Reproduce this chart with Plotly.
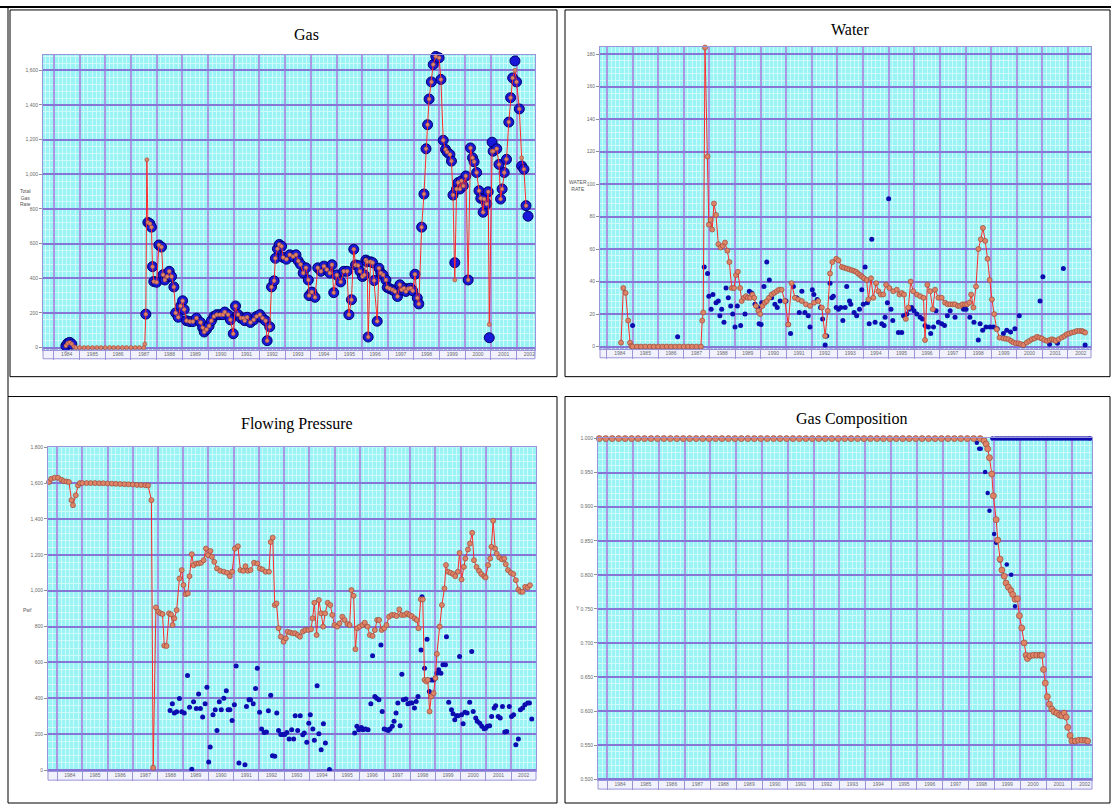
import plotly.graph_objects as go
from datetime import datetime

# ---------------- DATA (decimal years) ----------------
gas_years = [
    1984.47, 1984.54, 1984.62, 1984.70, 1984.78, 1984.86,
    1985.00, 1985.17, 1985.33, 1985.50, 1985.67, 1985.83,
    1986.00, 1986.17, 1986.33, 1986.50, 1986.67, 1986.83,
    1987.00, 1987.17, 1987.33, 1987.50, 1987.54, 1987.58,
    1987.62, 1987.66, 1987.74, 1987.80, 1987.84, 1987.89,
    1988.00, 1988.09, 1988.19, 1988.25, 1988.32, 1988.41,
    1988.49, 1988.58, 1988.67, 1988.74, 1988.84, 1988.93,
    1989.01, 1989.07, 1989.16, 1989.29, 1989.41, 1989.55,
    1989.71, 1989.79, 1989.85, 1989.94, 1990.04, 1990.13,
    1990.23, 1990.34, 1990.46, 1990.58, 1990.65, 1990.78,
    1990.87, 1990.98, 1991.07, 1991.17, 1991.28, 1991.37,
    1991.43, 1991.52, 1991.65, 1991.78, 1991.89, 1992.02,
    1992.12, 1992.24, 1992.30, 1992.40, 1992.47, 1992.57,
    1992.62, 1992.70, 1992.77, 1992.86, 1992.92, 1993.05,
    1993.18, 1993.31, 1993.42, 1993.51, 1993.60, 1993.70,
    1993.81, 1993.90, 1993.93, 1994.04, 1994.16, 1994.27,
    1994.39, 1994.51, 1994.62, 1994.74, 1994.82, 1994.89,
    1995.01, 1995.16, 1995.28, 1995.41, 1995.48, 1995.58,
    1995.67, 1995.74, 1995.84, 1995.91, 1996.01, 1996.08,
    1996.14, 1996.19, 1996.23, 1996.32, 1996.40, 1996.46,
    1996.58, 1996.65, 1996.72, 1996.81, 1996.92, 1996.97,
    1997.07, 1997.18, 1997.27, 1997.37, 1997.46, 1997.53,
    1997.62, 1997.70, 1997.79, 1997.88, 1997.96, 1998.05,
    1998.14, 1998.20, 1998.31, 1998.40, 1998.48, 1998.54,
    1998.60, 1998.69, 1998.76, 1998.86, 1998.99, 1999.06,
    1999.15, 1999.24, 1999.30, 1999.41, 1999.47, 1999.53,
    1999.60, 1999.67, 1999.73, 1999.80, 1999.86, 1999.93,
    2000.03, 2000.12, 2000.21, 2000.29, 2000.35, 2000.45,
    2000.54, 2000.61, 2000.70, 2000.74, 2000.84, 2000.90,
    2000.94, 2001.05, 2001.09, 2001.23, 2001.32, 2001.38,
    2001.44, 2001.52, 2001.61, 2001.70, 2001.77, 2001.85,
    2001.94, 2002.00, 2002.11, 2002.20, 2002.29, 2002.37,
    2002.45]

gas_red = [
    10, 25, 30, 20, 5, 0,
    0, 0, 0, 0, 0, 0,
    0, 0, 0, 0, 0, 0,
    0, 0, 0, 0, 20, 193,
    1084, 722, 715, 695, 467, 381,
    377, 592, 580, 420, 390, 410,
    440, 410, 350, 200, 175, 240,
    270, 220, 155, 150, 150, 170,
    145, 115, 90, 105, 125, 155,
    180, 190, 190, 190, 205, 190,
    160, 80, 240, 190, 170, 170,
    155, 175, 145, 160, 180, 190,
    170, 155, 40, 120, 350, 385,
    515, 570, 595, 585, 520, 510,
    535, 525, 535, 500, 480, 430,
    460, 390, 300, 320, 290, 460,
    440, 470, 450, 430, 478, 317,
    419, 379, 440, 440, 190, 276,
    567, 477, 473, 440, 410, 419,
    505, 495, 61, 495, 490, 387,
    152, 458, 430, 419, 390, 347,
    340, 333, 324, 295, 362, 333,
    343, 324, 340, 343, 328, 423,
    286, 252, 695, 886, 1147, 1286,
    1434, 1533, 1633, 1680, 1672, 1547,
    1196, 1143, 1128, 1114, 1076, 880,
    390, 915, 952, 915, 962, 933,
    990, 390, 1152, 1095, 1072, 1010,
    905, 861, 781, 857, 829, 899,
    133, 1133, 1133, 1147, 1057, 857,
    915, 1010, 1086, 1301, 1442, 1556,
    1600, 1533, 1377, 1095, 1029, 819,
    None]

gas_blue = [
    10, 25, 30, 20, None, None,
    None, None, None, None, None, None,
    None, None, None, None, None, None,
    None, None, None, None, None, 193,
    None, 722, 715, 695, 467, 381,
    377, 592, 580, 420, 390, 410,
    440, 410, 350, 200, 175, 240,
    270, 220, 155, 150, 150, 170,
    145, 115, 90, 105, 125, 155,
    180, 190, 190, 190, 205, 190,
    160, 80, 240, 190, 170, 170,
    155, 175, 145, 160, 180, 190,
    170, 155, 40, 120, 350, 385,
    515, 570, 595, 585, 520, 510,
    535, 525, 535, 500, 480, 430,
    460, 390, 300, 320, 290, 460,
    440, 470, 450, 430, 478, 317,
    419, 379, 440, 440, 190, 276,
    567, 477, 473, 440, 410, 419,
    505, 495, 61, 495, 490, 387,
    152, 458, 430, 419, 390, 347,
    340, 333, 324, 295, 362, 333,
    343, 324, 340, 343, 328, 423,
    286, 252, 695, 886, 1147, 1286,
    1434, 1533, 1633, 1680, 1672, 1547,
    1196, 1143, 1128, 1114, 1076, 880,
    490, 915, 952, 915, 962, 933,
    990, 390, 1152, 1095, 1072, 1010,
    905, 861, 781, 857, 829, 899,
    57, 1185, 1133, 1147, 1057, 857,
    915, 1010, 1086, 1301, 1442, 1556,
    1654, 1533, 1377, 1048, 1029, 819,
    758]

water_years = [
    1984.55, 1984.64, 1984.73, 1984.83, 1984.90, 1984.95,
    1985.00, 1985.17, 1985.33, 1985.50, 1985.67, 1985.83,
    1986.00, 1986.17, 1986.33, 1986.50, 1986.67, 1986.83,
    1987.00, 1987.17, 1987.33, 1987.50, 1987.67, 1987.72,
    1987.76, 1987.83, 1987.93, 1987.98, 1988.05, 1988.11,
    1988.18, 1988.26, 1988.35, 1988.44, 1988.52, 1988.61,
    1988.70, 1988.78, 1988.87, 1988.96, 1989.04, 1989.11,
    1989.20, 1989.26, 1989.35, 1989.43, 1989.50, 1989.59,
    1989.68, 1989.75, 1989.82, 1989.91, 1989.98, 1990.07,
    1990.16, 1990.24, 1990.33, 1990.43, 1990.53, 1990.63,
    1990.72, 1990.82, 1990.95, 1991.08, 1991.21, 1991.34,
    1991.47, 1991.61, 1991.77, 1991.93, 1992.09, 1992.25,
    1992.39, 1992.52, 1992.62, 1992.71, 1992.80, 1992.95,
    1993.04, 1993.17, 1993.26, 1993.36, 1993.46, 1993.56,
    1993.65, 1993.73, 1993.80, 1993.88, 1993.96, 1994.04,
    1994.14, 1994.21, 1994.31, 1994.40, 1994.51, 1994.60,
    1994.69, 1994.79, 1994.90, 1995.03, 1995.18, 1995.32,
    1995.42, 1995.51, 1995.60, 1995.67, 1995.77, 1995.86,
    1995.96, 1996.10, 1996.23, 1996.36, 1996.42, 1996.51,
    1996.62, 1996.72, 1996.81, 1996.94, 1997.07, 1997.20,
    1997.30, 1997.40, 1997.50, 1997.59, 1997.70, 1997.79,
    1997.88, 1997.98, 1998.06, 1998.15, 1998.22, 1998.31,
    1998.41, 1998.50, 1998.60, 1998.68, 1998.77, 1998.86,
    1998.94, 1999.03, 1999.12, 1999.22, 1999.33, 1999.48,
    1999.58, 1999.68, 1999.78, 1999.87, 1999.97, 2000.07,
    2000.16, 2000.26, 2000.39, 2000.49, 2000.59, 2000.69,
    2000.79, 2000.88, 2000.98, 2001.08, 2001.18, 2001.28,
    2001.37, 2001.45, 2001.52, 2001.64, 2001.76, 2001.86,
    2001.95, 2002.05, 2002.15, 2002.25, 2002.35, 2002.45,
    2002.54, 2002.60, 2002.67]

water_red = [
    2.4, 36, 33, 16, 2.4, 0.4,
    0, 0, 0, 0, 0, 0,
    0, 0, 0, 0, 0, 0,
    0, 0, 0, 0, 0, 16,
    21, 184, 117, 75, 78, 72,
    88, 81, 63, 61, 62, 64,
    59, 52, 36, 36, 44, 46,
    36, 28, 30, 31, 30, 30,
    32, 30, 25, 22, 20, 25,
    27, 28, 30, 32, 33, 34,
    35, 35, 28, 13.6, 39, 30,
    29, 28, 26, 25, 27, 28,
    24, 6.5, 22, 45, 52, 54,
    53, 49, 48.5, 48, 47.5, 47,
    46.5, 46, 45, 44, 43, 42,
    41, 29, 42, 30, 39, 34,
    32, 32, 38, 36, 34, 35,
    32, 33, 32, 17, 24, 40,
    34, 32, 31, 30, 4, 38,
    34, 23, 35, 30, 30, 27,
    26, 26, 26, 26, 25, 25,
    26, 26, 26, 27, 32, 24,
    37, 60, 66, 73, 65, 54,
    41, 29, 20, 10.6, 5.5, 5,
    4.8, 4.5, 3.5, 2.5, 2, 2,
    1.5, 1, 2.5, 3.5, 4.5, 5,
    6, 5.5, 5, 4, 3.5, 4,
    4.5, 4, 3.5, 4.5, 5.6, 6.5,
    7.6, 8, 8.6, 9, 9.6, 9.6,
    9.6, 9.2, 8.6]

water_blue_years = [
    1985.00, 1986.76, 1987.80, 1987.93, 1987.98, 1988.07, 1988.14, 1988.26,
    1988.35, 1988.41, 1988.48, 1988.57, 1988.65, 1988.74, 1988.83, 1988.91,
    1989.00, 1989.09, 1989.22, 1989.39, 1989.56, 1989.65, 1989.78, 1989.89,
    1989.94, 1990.02, 1990.04, 1990.13, 1990.24, 1990.34, 1990.43, 1990.56,
    1990.65, 1990.76, 1990.99, 1991.08, 1991.17, 1991.28, 1991.41, 1991.51,
    1991.61, 1991.73, 1991.86, 1991.93, 1992.02, 1992.08, 1992.21, 1992.34,
    1992.42, 1992.52, 1992.58, 1992.71, 1992.78, 1992.84, 1992.95, 1993.04,
    1993.13, 1993.21, 1993.30, 1993.36, 1993.47, 1993.52, 1993.65, 1993.75,
    1993.86, 1993.95, 1994.01, 1994.08, 1994.17, 1994.24, 1994.34, 1994.47,
    1994.73, 1994.82, 1994.86, 1994.95, 1995.00, 1995.09, 1995.16, 1995.38,
    1995.51, 1995.58, 1995.71, 1995.81, 1995.90, 1995.99, 1996.10, 1996.23,
    1996.32, 1996.42, 1996.55, 1996.64, 1996.75, 1996.85, 1996.94, 1997.07,
    1997.18, 1997.29, 1997.40, 1997.59, 1997.92, 1998.02, 1998.17, 1998.33,
    1998.50, 1998.57, 1998.67, 1998.80, 1998.96, 1999.09, 1999.24, 1999.48,
    1999.61, 1999.76, 1999.93, 2000.10, 2000.26, 2000.91, 2001.02, 2001.28,
    2001.59, 2001.82, 2002.67]

water_blue = [
    13, 6, 49, 45, 31, 23, 32, 27,
    28, 19, 23, 15, 36, 30, 25, 20,
    12, 25, 13, 20, 34, 33, 26, 24,
    14, 13.6, 27, 37, 52, 41, 30, 26,
    24, 28, 28, 13.6, 8, 37, 30, 21,
    34, 21, 19, 12, 35, 32, 29, 24,
    17, 1, 6.5, 39, 30, 31, 24, 23,
    24, 16, 24, 37, 28, 26, 21, 19,
    23, 35, 26, 49, 27, 14, 66, 15,
    14, 13, 18, 27, 91, 23, 16, 8.6,
    8.6, 19, 20, 23, 24, 22, 20, 18,
    17, 13, 12, 8, 12, 22, 15, 14,
    13, 19, 22, 18, 23, 23, 18, 15,
    4, 14, 10, 12, 12, 12, 11, 8,
    10, 9, 11, 19, 1, 28, 43, 1.5,
    2, 48, 1]

press_years = [
    1983.68, 1983.77, 1983.90, 1984.04, 1984.17, 1984.26, 1984.37, 1984.47,
    1984.57, 1984.63, 1984.74, 1984.83, 1984.90,
    1985.00, 1985.17, 1985.33, 1985.50, 1985.67, 1985.83, 1986.00, 1986.17,
    1986.33, 1986.50, 1986.67, 1986.83, 1987.00, 1987.17, 1987.33, 1987.50,
    1987.61, 1987.74, 1987.81,
    1987.92, 1988.01, 1988.10, 1988.18, 1988.25, 1988.34, 1988.44, 1988.52,
    1988.58, 1988.65, 1988.74, 1988.85, 1988.94, 1989.01, 1989.10, 1989.18,
    1989.25, 1989.34, 1989.41, 1989.52, 1989.61, 1989.71, 1989.81, 1989.90,
    1989.98, 1990.08, 1990.14, 1990.23, 1990.34, 1990.47, 1990.61, 1990.74,
    1990.85, 1990.94, 1991.05, 1991.17, 1991.27, 1991.38, 1991.47, 1991.56,
    1991.67, 1991.81, 1991.94, 1992.04, 1992.14, 1992.27, 1992.40, 1992.47,
    1992.55, 1992.63, 1992.70, 1992.78, 1992.87, 1992.98, 1993.07, 1993.14,
    1993.24, 1993.34, 1993.44, 1993.54, 1993.63, 1993.74, 1993.84, 1993.96,
    1994.07, 1994.13, 1994.20, 1994.29, 1994.38, 1994.47, 1994.55, 1994.63,
    1994.73, 1994.83, 1994.91, 1995.00, 1995.11, 1995.20, 1995.31, 1995.40,
    1995.51, 1995.60, 1995.67, 1995.76, 1995.83, 1995.90, 1996.00, 1996.11,
    1996.20, 1996.31, 1996.40, 1996.51, 1996.60, 1996.69, 1996.77, 1996.87,
    1996.97, 1997.06, 1997.16, 1997.27, 1997.37, 1997.46, 1997.57, 1997.66,
    1997.77, 1997.87, 1997.97, 1998.06, 1998.17, 1998.26, 1998.33, 1998.42,
    1998.50, 1998.57, 1998.64, 1998.70, 1998.77, 1998.84, 1998.93, 1999.00,
    1999.06, 1999.17, 1999.26, 1999.36, 1999.42, 1999.50, 1999.60, 1999.70,
    1999.79, 1999.89, 1999.96, 2000.04, 2000.13, 2000.19, 2000.29, 2000.37,
    2000.46, 2000.53, 2000.63, 2000.73, 2000.82, 2000.93, 2000.99, 2001.09,
    2001.17, 2001.22, 2001.29, 2001.37, 2001.43, 2001.53, 2001.64, 2001.73,
    2001.79, 2001.88, 2001.99, 2002.09, 2002.19, 2002.29, 2002.37, 2002.46,
    2002.56, 2002.66, 2002.75]

press_red = [
    1606, 1624, 1630, 1630, 1619, 1611, 1609, 1606,
    1505, 1477, 1532, 1587, 1600,
    1600, 1600, 1600, 1600, 1599, 1599, 1598, 1597,
    1596, 1595, 1594, 1593, 1592, 1590, 1589, 1588,
    1587, 1505, 13,
    907, 883, 874, 870, 694, 692, 874, 868,
    809, 846, 892, 1068, 1115, 1032, 981, 985,
    1081, 1204, 1142, 1152, 1152, 1156, 1170, 1235,
    1198, 1222, 1189, 1161, 1124, 1111, 1106, 1100,
    1081, 1106, 1235, 1248, 1115, 1111, 1137, 1111,
    1115, 1156, 1152, 1124, 1119, 1106, 1106, 1272,
    1296, 920, 929, 791, 744, 716, 735, 772,
    767, 763, 763, 753, 744, 772, 781, 781,
    785, 846, 933, 753, 948, 874, 800, 874,
    933, 920, 865, 809, 800, 818, 855, 837,
    815, 809, 1004, 972, 674, 791, 800, 809,
    822, 800, 753, 748, 781, 837, 837, 781,
    791, 809, 855, 865, 865, 859, 896, 865,
    865, 874, 865, 859, 846, 837, 791, 952,
    952, 503, 494, 503, 327, 411, 429, 513,
    648, 800, 920, 1013, 1143, 1106, 1100, 1093,
    1081, 1106, 1211, 1063, 1133, 1180, 1230, 1263,
    1323, 1170, 1133, 1111, 1093, 1081, 1074, 1143,
    1180, 1245, 1390, 1235, 1207, 1185, 1174, 1180,
    1148, 1115, 1100, 1093, 1059, 1007, 994, 994,
    1022, 1018, 1031]

press_blue_years = [
    1988.48, 1988.57, 1988.65, 1988.74, 1988.85, 1988.94, 1989.04, 1989.17,
    1989.25, 1989.34, 1989.41, 1989.52, 1989.61, 1989.68, 1989.77, 1989.87,
    1989.94, 1990.01, 1990.07, 1990.18, 1990.27, 1990.34, 1990.43, 1990.51,
    1990.61, 1990.71, 1990.78, 1990.85, 1990.94, 1991.03, 1991.10, 1991.21,
    1991.45, 1991.51, 1991.61, 1991.67, 1991.78, 1991.87, 1991.94, 1992.03,
    1992.11, 1992.21, 1992.30, 1992.38, 1992.47, 1992.54, 1992.63, 1992.71,
    1992.78, 1992.87, 1992.94, 1993.03, 1993.11, 1993.20, 1993.30, 1993.38,
    1993.44, 1993.54, 1993.64, 1993.74, 1993.80, 1993.90, 1993.98, 1994.04,
    1994.14, 1994.20, 1994.31, 1994.38, 1994.47, 1994.56, 1994.64, 1994.80,
    1995.80, 1995.89, 1995.96, 1996.07, 1996.13, 1996.23, 1996.33, 1996.44,
    1996.51, 1996.60, 1996.67, 1996.76, 1996.84, 1996.89, 1996.97, 1997.07,
    1997.13, 1997.20, 1997.29, 1997.36, 1997.44, 1997.51, 1997.60, 1997.67,
    1997.73, 1997.83, 1997.91, 1998.00, 1998.07, 1998.17, 1998.24, 1998.31,
    1998.43, 1998.47, 1998.57, 1998.67, 1998.70, 1998.76, 1998.84, 1998.93,
    1999.00, 1999.06, 1999.13, 1999.22, 1999.30, 1999.40, 1999.44, 1999.53,
    1999.64, 1999.70, 1999.77, 1999.84, 1999.90, 1999.96, 2000.04, 2000.10,
    2000.17, 2000.26, 2000.36, 2000.44, 2000.50, 2000.60, 2000.66, 2000.76,
    2000.84, 2000.93, 2000.99, 2001.06, 2001.15, 2001.23, 2001.33, 2001.39,
    2001.49, 2001.57, 2001.66, 2001.75, 2001.83, 2001.93, 2002.02, 2002.10,
    2002.19, 2002.29, 2002.37, 2002.46, 2002.55, 2002.66, 2002.73, 2002.82]

press_blue = [
    333, 370, 318, 325, 399, 325, 318, 527,
    351, 5, 381, 344, 424, 344, 296, 370,
    462, 45, 129, 309, 336, 221, 381, 336,
    401, 442, 336, 336, 277, 364, 581, 40,
    30, 355, 392, 392, 370, 455, 568, 322,
    229, 210, 212, 331, 418, 80, 77, 318,
    221, 199, 199, 199, 210, 173, 225, 173,
    303, 221, 303, 197, 207, 155, 262, 309,
    229, 166, 470, 203, 114, 259, 151, 3,
    207, 244, 225, 238, 225, 229, 225, 370,
    637, 411, 401, 392, 698, 327, 229, 225,
    221, 229, 244, 272, 318, 374, 247, 535,
    392, 396, 370, 374, 374, 346, 383, 411,
    670, 967, 568, 729, 503, 438, 503, 503,
    513, 540, 559, 540, 587, 587, 744, 379,
    336, 314, 281, 303, 303, 633, 309, 259,
    322, 318, 379, 661, 327, 290, 272, 262,
    244, 231, 234, 244, 247, 299, 346, 359,
    299, 290, 355, 212, 216, 355, 299, 309,
    142, 173, 336, 346, 364, 374, 374, 285]

comp_years = [
    1983.70, 1983.95, 1984.20, 1984.45, 1984.70, 1984.95, 1985.20, 1985.45,
    1985.70, 1985.95, 1986.20, 1986.45, 1986.70, 1986.95, 1987.20, 1987.45,
    1987.70, 1987.95, 1988.20, 1988.45, 1988.70, 1988.95, 1989.20, 1989.45,
    1989.70, 1989.95, 1990.20, 1990.45, 1990.70, 1990.95, 1991.20, 1991.45,
    1991.70, 1991.95, 1992.20, 1992.45, 1992.70, 1992.95, 1993.20, 1993.45,
    1993.70, 1993.95, 1994.20, 1994.45, 1994.70, 1994.95, 1995.20, 1995.45,
    1995.70, 1995.95, 1996.20, 1996.45, 1996.70, 1996.95, 1997.20, 1997.45,
    1997.70, 1997.95, 1998.20,
    1998.45, 1998.60, 1998.68, 1998.74, 1998.81, 1998.90, 1998.96, 1999.07,
    1999.13, 1999.22, 1999.29, 1999.38, 1999.45, 1999.54, 1999.64, 1999.71,
    1999.80, 1999.89, 1999.97, 2000.06, 2000.15, 2000.23, 2000.28, 2000.38,
    2000.51, 2000.64, 2000.77, 2000.84, 2000.90, 2000.97, 2001.05, 2001.13,
    2001.22, 2001.31, 2001.42, 2001.52, 2001.61, 2001.70, 2001.78, 2001.84,
    2001.93, 2002.00, 2002.13, 2002.26, 2002.39, 2002.52, 2002.61]

comp_red = [
    1.000, 1.000, 1.000, 1.000, 1.000, 1.000, 1.000, 1.000,
    1.000, 1.000, 1.000, 1.000, 1.000, 1.000, 1.000, 1.000,
    1.000, 1.000, 1.000, 1.000, 1.000, 1.000, 1.000, 1.000,
    1.000, 1.000, 1.000, 1.000, 1.000, 1.000, 1.000, 1.000,
    1.000, 1.000, 1.000, 1.000, 1.000, 1.000, 1.000, 1.000,
    1.000, 1.000, 1.000, 1.000, 1.000, 1.000, 1.000, 1.000,
    1.000, 1.000, 1.000, 1.000, 1.000, 1.000, 1.000, 1.000,
    1.000, 1.000, 1.000,
    1.000, 0.997, 0.992, 0.985, 0.972, 0.948, 0.916, 0.881,
    0.851, 0.823, 0.807, 0.798, 0.788, 0.782, 0.777, 0.771,
    0.764, 0.765, 0.740, 0.722, 0.700, 0.682, 0.677, 0.681,
    0.682, 0.682, 0.682, 0.682, 0.661, 0.641, 0.621, 0.610,
    0.603, 0.599, 0.597, 0.594, 0.593, 0.597, 0.591, 0.576,
    0.564, 0.556, 0.556, 0.557, 0.557, 0.557, 0.556]

comp_blue_years = [
    1998.32, 1998.41, 1998.47, 1998.64, 1998.74, 1998.81, 1998.99, 1999.07,
    1999.22, 1999.48, 1999.65, 1999.80,
    1998.92, 1999.05, 1999.15, 1999.25, 1999.35, 1999.45, 1999.55, 1999.65,
    1999.75, 1999.85, 1999.95, 2000.05, 2000.15, 2000.25, 2000.35, 2000.45,
    2000.55, 2000.65, 2000.75, 2000.85, 2000.95, 2001.05, 2001.15, 2001.25,
    2001.35, 2001.45, 2001.55, 2001.65, 2001.75, 2001.85, 2001.95, 2002.05,
    2002.15, 2002.25, 2002.35, 2002.45, 2002.55, 2002.65, 2002.72]

comp_blue = [
    0.994, 0.985, 0.985, 0.951, 0.920, 0.894, 0.860, 0.847,
    0.821, 0.815, 0.800, 0.754,
    1.000, 1.000, 1.000, 1.000, 1.000, 1.000, 1.000, 1.000,
    1.000, 1.000, 1.000, 1.000, 1.000, 1.000, 1.000, 1.000,
    1.000, 1.000, 1.000, 1.000, 1.000, 1.000, 1.000, 1.000,
    1.000, 1.000, 1.000, 1.000, 1.000, 1.000, 1.000, 1.000,
    1.000, 1.000, 1.000, 1.000, 1.000, 1.000, 1.000]

panel_titles = ["Gas", "Water", "Flowing Pressure", "Gas Composition"]
y_titles = ["Total<br>Gas<br>Rate", "WATER<br>RATE", "Pwf", "Y"]

# ---------------- STYLE / LAYOUT ----------------
W, H = 1111, 806
BG = '#9af4f6'
MAJ_X = '#ac98e2'
MAJ_Y = '#8676d6'
MIN = '#cefafa'
BANDLINE = '#9a94d8'
RED = '#ff2a2a'
RED_MK = '#e08468'
RED_MK_LINE = '#9a4a3a'
BLUE = '#0c0cb0'


def yr(v):
    y = int(v // 1)
    a = datetime(y, 1, 1)
    b = datetime(y + 1, 1, 1)
    return a + (b - a) * (v - y)


def dts(lst):
    return [yr(v) for v in lst]


def xd(px0, px1):
    return [px0 / W, px1 / W]


def yd(py0, py1):
    return [1 - py1 / H, 1 - py0 / H]


# pixel boxes of plot areas: (x0, x1, y0, y1)
boxes = [(43, 535, 52, 349), (600, 1091, 44, 348), (48, 536, 447, 773), (598, 1092, 438, 782)]
xranges = [(1983.58, 2002.72), (1983.73, 2002.90), (1983.64, 2002.99), (1983.65, 2002.78)]
yranges = [(-13, 1690), (-1.4, 184.5), (-6, 1800), (0.4985, 1.0005)]
ydticks = [200, 20, 200, 0.05]
ytick0 = [0, 0, 0, 0.5]
yfmts = [',d', 'd', ',d', '.3f']

fig = go.Figure()
tickfont = dict(size=5, color='#6a6a6a', family='Liberation Sans')
layout = dict(width=W, height=H, margin=dict(l=0, r=0, t=0, b=0), autosize=False,
              paper_bgcolor='white', plot_bgcolor=BG, showlegend=False)

BAND = 9
shapes = []
annotations = []
for i, (bx, xr, yrg, dt, t0, fmt) in enumerate(zip(boxes, xranges, yranges, ydticks, ytick0, yfmts)):
    k = '' if i == 0 else str(i + 1)
    layout['xaxis' + k] = dict(
        domain=xd(bx[0], bx[1]), anchor='y' + k, type='date',
        range=[yr(xr[0]), yr(xr[1])],
        tick0='1984-01-01', dtick='M12', tickformat='%Y', ticklabelmode='period',
        showgrid=True, gridcolor=MAJ_X, gridwidth=2,
        minor=dict(dtick='M2', showgrid=True, gridcolor=MIN, gridwidth=1),
        ticks='outside', ticklen=BAND, tickcolor=BANDLINE, tickwidth=1,
        ticklabelstandoff=-10, tickfont=tickfont,
        showline=True, linecolor=BANDLINE, linewidth=1, mirror=True, zeroline=False)
    layout['yaxis' + k] = dict(
        domain=yd(bx[2], bx[3]), anchor='x' + k, range=list(yrg),
        tick0=t0, dtick=dt, tickformat=fmt,
        showgrid=True, gridcolor=MAJ_Y, gridwidth=2,
        minor=dict(dtick=dt / 5, showgrid=True, gridcolor=MIN, gridwidth=1),
        ticks='outside', ticklen=3, tickcolor='#909090', tickfont=tickfont,
        showline=True, linecolor=BANDLINE, linewidth=1, mirror=True, zeroline=False)
    hpx = bx[3] - bx[2]
    shapes.append(dict(type='rect', xref='x' + k + ' domain', yref='y' + k + ' domain',
                       x0=0, x1=1, y0=-BAND / hpx, y1=0, layer='below',
                       fillcolor='#f2f2ff', line=dict(color=BANDLINE, width=1)))

# panel frames (paper px)
frames = [(10, 557, 7, 376), (565, 1110, 7, 376), (8, 557, 396, 805), (565, 1110, 396, 805)]
for (x0, x1, y0, y1) in frames:
    shapes.append(dict(type='rect', xref='paper', yref='paper', x0=x0 / W, x1=x1 / W,
                       y0=1 - y1 / H, y1=1 - y0 / H, line=dict(color='black', width=1)))
shapes.append(dict(type='line', xref='paper', yref='paper', x0=0, x1=1, y0=1 - 4 / H, y1=1 - 4 / H,
                   line=dict(color='black', width=2)))
shapes.append(dict(type='line', xref='paper', yref='paper', x0=8 / W, x1=8 / W, y0=1 - 396 / H, y1=1 - 4 / H,
                   line=dict(color='black', width=1)))
layout['shapes'] = shapes

title_pos = [(306, 32), (850, 27), (297, 424), (852, 419)]
for t, (px, py) in zip(panel_titles, title_pos):
    annotations.append(dict(text=t, x=px / W, y=1 - py / H, xref='paper', yref='paper',
                            showarrow=False, xanchor='center', yanchor='middle',
                            font=dict(family='Liberation Serif', size=16, color='black')))
ytitle_pos = [(25, 196), (578, 184), (27, 611), (578, 609)]
for t, (px, py) in zip(y_titles, ytitle_pos):
    annotations.append(dict(text=t, x=px / W, y=1 - py / H, xref='paper', yref='paper',
                            showarrow=False, xanchor='center', yanchor='middle',
                            font=dict(family='Liberation Sans', size=5, color='#555555')))
layout['annotations'] = annotations

red_marker = dict(size=5, color=RED_MK, line=dict(color=RED_MK_LINE, width=0.7))

# Gas
fig.add_trace(go.Scatter(x=dts(gas_years), y=gas_blue, mode='markers', xaxis='x', yaxis='y',
                         marker=dict(size=10, color='#1818d8', line=dict(color='#000070', width=1)),
                         cliponaxis=False))
fig.add_trace(go.Scatter(x=dts(gas_years), y=gas_red, mode='lines+markers', xaxis='x', yaxis='y',
                         line=dict(color=RED, width=1),
                         marker=dict(size=4, color=RED_MK, line=dict(color=RED_MK_LINE, width=0.6)),
                         cliponaxis=False))
# Water
fig.add_trace(go.Scatter(x=dts(water_blue_years), y=water_blue, mode='markers', xaxis='x2', yaxis='y2',
                         marker=dict(size=5, color=BLUE), cliponaxis=False))
fig.add_trace(go.Scatter(x=dts(water_years), y=water_red, mode='lines+markers', xaxis='x2', yaxis='y2',
                         line=dict(color=RED, width=1), marker=red_marker, cliponaxis=False))
# Flowing pressure
fig.add_trace(go.Scatter(x=dts(press_blue_years), y=press_blue, mode='markers', xaxis='x3', yaxis='y3',
                         marker=dict(size=5, color=BLUE), cliponaxis=False))
fig.add_trace(go.Scatter(x=dts(press_years), y=press_red, mode='lines+markers', xaxis='x3', yaxis='y3',
                         line=dict(color=RED, width=1), marker=red_marker, cliponaxis=False))
# Gas composition
fig.add_trace(go.Scatter(x=dts(comp_blue_years), y=comp_blue, mode='markers', xaxis='x4', yaxis='y4',
                         marker=dict(size=4.5, color=BLUE), cliponaxis=False))
fig.add_trace(go.Scatter(x=dts(comp_years), y=comp_red, mode='lines+markers', xaxis='x4', yaxis='y4',
                         line=dict(color=RED, width=1),
                         marker=dict(size=6, color=RED_MK, line=dict(color=RED_MK_LINE, width=0.7)),
                         cliponaxis=False))

fig.update_layout(**layout)
fig.write_html("out.html")
